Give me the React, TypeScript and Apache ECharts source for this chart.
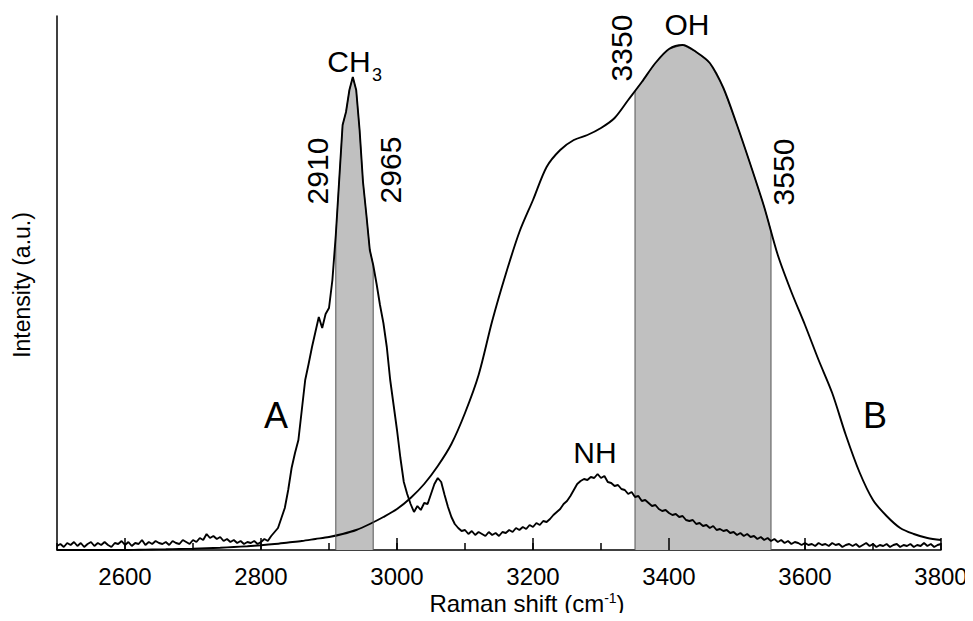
import React, { useEffect, useRef } from "react";
import * as echarts from "echarts";

// Spectrum A (noisy, CH3 band + NH band), sampled every 5 cm-1 from 2500
const specAStart = 2500;
const specAStep = 5;
const specA = [
  4, 6, 3, 7, 5, 8, 4, 7, 3, 6, 8, 4, 7, 5, 8, 5, 3, 7, 6, 9,
  5, 8, 4, 7, 6, 10, 5, 8, 6, 9, 7, 6, 8, 5, 9, 7, 6, 10, 8, 6,
  10, 8, 12, 10, 16, 12, 14, 11, 13, 9, 11, 8, 10, 7, 9, 6, 8, 7, 9, 6,
  8, 11, 9, 14, 18, 22, 32, 42, 60, 82, 97, 110, 140, 170, 186, 203, 218, 233, 222, 236,
  242, 270, 315, 370, 425, 438, 460, 473, 460, 420, 368, 335, 300, 285, 266, 245, 227, 203, 170, 145,
  120, 92, 68, 56, 46, 38, 44, 40, 47, 46, 56, 66, 72, 68, 55, 43, 33, 26, 22, 19,
  20, 16, 19, 15, 18, 16, 14, 18, 15, 17, 14, 18, 17, 20, 18, 22, 20, 23, 21, 25,
  23, 27, 25, 29, 28, 31, 35, 38, 41, 46, 49, 54, 60, 66, 69, 71, 70, 73, 72, 76,
  72, 74, 68, 67, 64, 65, 61, 60, 56, 58, 53, 54, 49, 50, 47, 44, 45, 41, 39, 40,
  37, 35, 36, 33, 34, 30, 29, 30, 26, 27, 24, 25, 22, 24, 20, 21, 19, 20, 17, 18,
  15, 17, 14, 16, 13, 14, 11, 13, 10, 12, 9, 11, 8, 10, 7, 9, 6, 8, 7, 5,
  7, 5, 6, 4, 7, 5, 6, 4, 7, 5, 6, 3, 5, 6, 4, 6, 3, 5, 7, 4,
  6, 3, 5, 4, 6, 3, 5, 6, 3, 5, 4, 6, 3, 5, 4, 7, 4, 6, 3, 5, 6,
];

// Spectrum B (smooth, OH band), sampled every 20 cm-1 from 2500
const specBStart = 2500;
const specBStep = 20;
const specB = [
  0, 0, 0, 0, 0, 0, 0.3, 0.5, 0.7, 1,
  1.3, 1.8, 2.3, 3, 3.8, 4.8, 6, 7.5, 9, 11,
  13, 16, 20, 26, 33, 41, 52, 66, 84, 106,
  137, 175, 229, 276, 318, 350, 383, 400, 410, 415,
  422, 432, 450, 468, 487, 501, 505, 498, 487, 462,
  425, 385, 343, 295, 258, 225, 190, 157, 115, 78,
  50, 34, 22, 16, 12, 10,
];

const xMajorTicks = [2600, 2800, 3000, 3200, 3400, 3600, 3800];
const majorTickLen = 12; // y-axis units (1 unit ≈ 1 px)
const bandCH3 = [2910, 2965];
const bandOH = [3350, 3550];

const FONT = "'Liberation Sans', Arial, Helvetica, sans-serif";

function toPairs(start: number, step: number, vals: number[]): number[][] {
  return vals.map((v, i) => [start + i * step, v]);
}

function interp(pairs: number[][], x: number): number {
  for (let i = 0; i < pairs.length - 1; i++) {
    const [x0, y0] = pairs[i];
    const [x1, y1] = pairs[i + 1];
    if (x >= x0 && x <= x1) {
      return y0 + ((y1 - y0) * (x - x0)) / (x1 - x0);
    }
  }
  return 0;
}

function bandPolygon(pairs: number[][], lo: number, hi: number): number[][] {
  const inner = pairs.filter((p) => p[0] > lo && p[0] < hi);
  return [[lo, 0], [lo, interp(pairs, lo)], ...inner, [hi, interp(pairs, hi)], [hi, 0]];
}

function txt(text: string, x: number, y: number, size: number, rotate = false) {
  return {
    type: "text",
    x,
    y,
    rotation: rotate ? Math.PI / 2 : 0,
    silent: true,
    style: {
      text,
      fontSize: size,
      fontFamily: FONT,
      fill: "#000",
      align: "center",
      verticalAlign: "middle",
    },
  };
}

export default function App() {
  const ref = useRef<HTMLDivElement>(null);

  useEffect(() => {
    if (!ref.current) return;
    const chart = echarts.init(ref.current, undefined, { renderer: "svg" });
    const a = toPairs(specAStart, specAStep, specA);
    const b = toPairs(specBStart, specBStep, specB);

    chart.setOption({
      animation: false,
      backgroundColor: "#fff",
      grid: { left: 57, right: 32, top: 16, bottom: 71 },
      xAxis: {
        type: "value",
        min: 2500,
        max: 3800,
        interval: 100,
        splitLine: { show: false },
        axisLine: { show: true, onZero: false, lineStyle: { color: "#000", width: 1.5 } },
        axisTick: {
          show: true,
          inside: true,
          length: 7,
          lineStyle: { color: "#000", width: 1.5 },
        },
        axisLabel: {
          show: true,
          formatter: (v: number) => (v % 200 === 0 ? String(v) : ""),
          color: "#000",
          fontSize: 24,
          fontFamily: FONT,
          margin: 14,
        },
      },
      yAxis: {
        type: "value",
        min: 0,
        max: 534,
        axisLine: { show: true, lineStyle: { color: "#000", width: 1.5 } },
        axisTick: { show: false },
        axisLabel: { show: false },
        splitLine: { show: false },
      },
      series: [
        {
          // carrier for the long (major) ticks, drawn beneath the shaded bands
          type: "line",
          data: [],
          z: 1,
          silent: true,
          markLine: {
            silent: true,
            symbol: ["none", "none"],
            label: { show: false },
            lineStyle: { color: "#000", width: 1.5, type: "solid" },
            data: xMajorTicks.map((t) => [
              { coord: [t, 0] },
              { coord: [t, majorTickLen] },
            ]),
          },
        },
        {
          type: "line",
          data: bandPolygon(b, bandOH[0], bandOH[1]),
          symbol: "none",
          silent: true,
          lineStyle: { color: "#555", width: 1 },
          areaStyle: { color: "#c0c0c0", opacity: 1 },
        },
        {
          type: "line",
          data: b,
          symbol: "none",
          silent: true,
          smooth: 0.3,
          lineStyle: { color: "#000", width: 1.9 },
        },
        {
          type: "line",
          data: bandPolygon(a, bandCH3[0], bandCH3[1]),
          symbol: "none",
          silent: true,
          lineStyle: { color: "#555", width: 1 },
          areaStyle: { color: "#c0c0c0", opacity: 1 },
        },
        {
          type: "line",
          data: a,
          symbol: "none",
          silent: true,
          lineStyle: { color: "#000", width: 1.9 },
        },
      ],
      graphic: [
        txt("CH", 349, 61, 30),
        txt("3", 377, 75, 18),
        txt("2910", 317, 171, 30, true),
        txt("2965", 390, 170, 30, true),
        txt("3350", 621, 48, 30, true),
        txt("OH", 687, 24, 30),
        txt("3550", 783, 172, 30, true),
        txt("NH", 595, 452, 30),
        txt("A", 276, 415, 36),
        txt("B", 875, 415, 36),
        txt("Intensity (a.u.)", 22, 285, 23, true),
        {
          type: "text",
          x: 527,
          y: 603,
          silent: true,
          style: {
            text: "Raman shift (cm{sup|-1})",
            fontSize: 24,
            fontFamily: FONT,
            fill: "#000",
            align: "center",
            verticalAlign: "middle",
            rich: {
              sup: { fontSize: 14, fontFamily: FONT, fill: "#000", verticalAlign: "top" },
            },
          },
        },
      ],
    });

    return () => chart.dispose();
  }, []);

  return <div ref={ref} style={{ width: 973, height: 621, margin: -8 }} />;
}
